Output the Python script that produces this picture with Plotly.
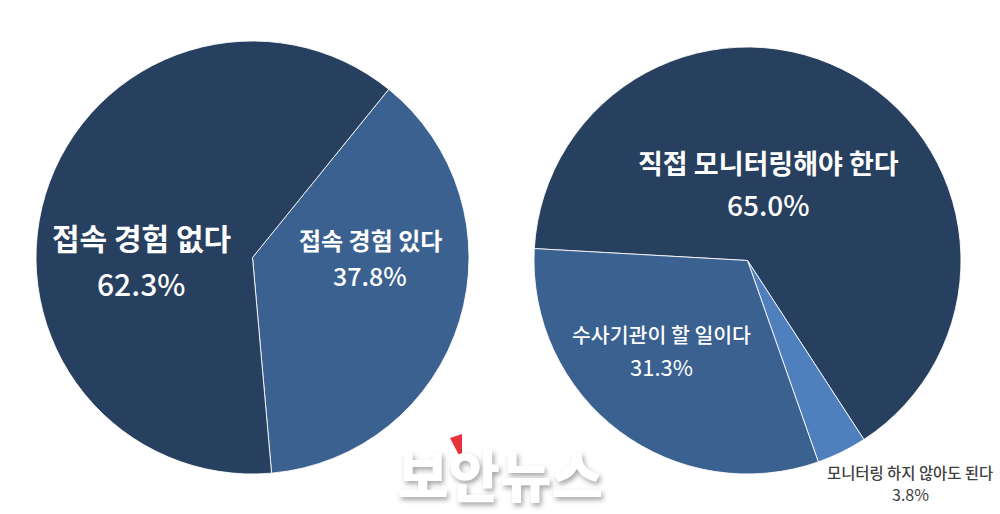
import plotly.graph_objects as go

# ---- data ----
left_labels = ["접속 경험 있다", "접속 경험 없다"]
left_values = [37.8, 62.3]
right_labels = ["직접 모니터링해야 한다", "모니터링 하지 않아도 된다", "수사기관이 할 일이다"]
right_values = [65.0, 3.8, 31.3]

DARK = "#28405f"
MID = "#3a6190"
LIGHT = "#4f7fbc"
FONT = "Noto Sans CJK KR"

W, H = 1000, 514

def px(x0, x1):
    return [x0 / W, x1 / W]

def py(top, bottom):
    return [(H - bottom) / H, (H - top) / H]

fig = go.Figure()
fig.add_trace(go.Pie(
    labels=left_labels, values=left_values, sort=False, direction="clockwise",
    rotation=39, textinfo="none", hoverinfo="label+value",
    marker=dict(colors=[MID, DARK], line=dict(color="rgba(255,255,255,0.85)", width=1)),
    domain=dict(x=px(36, 469), y=py(41, 474)), showlegend=False,
))
fig.add_trace(go.Pie(
    labels=right_labels, values=right_values, sort=False, direction="clockwise",
    rotation=273.2, textinfo="none", hoverinfo="label+value",
    marker=dict(colors=[DARK, LIGHT, MID], line=dict(color="rgba(255,255,255,0.85)", width=1)),
    domain=dict(x=px(534, 961), y=py(47, 474)), showlegend=False,
))

def label(text, value, x, y1, y2, size, psize, color="white", weight=600):
    fig.add_annotation(x=x / W, y=(H - y1) / H, xref="paper", yref="paper",
                       text=text, showarrow=False, xanchor="center", yanchor="middle",
                       font=dict(family=FONT, size=size, color=color, weight=weight))
    fig.add_annotation(x=x / W, y=(H - y2) / H, xref="paper", yref="paper",
                       text=f"{value:.1f}%", showarrow=False, xanchor="center", yanchor="middle",
                       font=dict(family=FONT, size=psize, color=color, weight=weight - 100))

label(left_labels[1], left_values[1], 141, 237, 283, 30, 30)
label(left_labels[0], left_values[0], 370, 239, 275, 24, 25)
label(right_labels[0], right_values[0], 768, 162, 204, 27, 28)
label(right_labels[2], right_values[2], 661, 334, 366, 20.5, 22, weight=500)
label(right_labels[1], right_values[1], 910, 472, 494, 15.4, 16, color="#404040", weight=500)

# watermark
fig.add_annotation(x=500 / W, y=(H - 472) / H, xref="paper", yref="paper", text="보안뉴스",
                   showarrow=False, xanchor="center", yanchor="middle",
                   font=dict(family=FONT, size=56, color="white", weight=900,
                             shadow="2px 3px 5px rgba(0,0,0,0.35)"))
fig.add_shape(type="path", xref="paper", yref="paper",
              path=f"M {450/W} {(H-438)/H} L {462/W} {(H-434)/H} L {462/W} {(H-461)/H} Z",
              fillcolor="#e8313a", line=dict(width=0))

fig.update_layout(width=W, height=H, margin=dict(l=0, r=0, t=0, b=0),
                  paper_bgcolor="white", plot_bgcolor="white")
fig.write_html("out.html", config={"displayModeBar": False},
               post_script="document.body.style.margin='0';")
